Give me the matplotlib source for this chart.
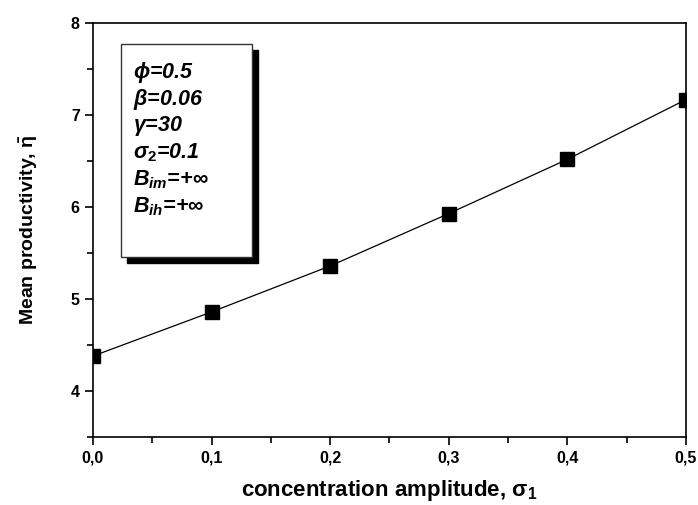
import matplotlib
matplotlib.use("Agg")
import matplotlib.pyplot as plt
from matplotlib.ticker import MultipleLocator, FuncFormatter
from matplotlib.patches import Rectangle

plt.rcParams['font.family'] = ['Liberation Sans', 'DejaVu Sans']
plt.rcParams['mathtext.fontset'] = 'custom'
plt.rcParams['mathtext.rm'] = 'Liberation Sans:bold'
plt.rcParams['mathtext.it'] = 'Liberation Sans:italic:bold'
plt.rcParams['mathtext.bf'] = 'Liberation Sans:bold'

# data
sigma1 = [0.0, 0.1, 0.2, 0.3, 0.4, 0.5]
eta_mean = [4.38, 4.86, 5.36, 5.93, 6.52, 7.17]

params = [r"$\phi$=0.5", r"$\beta$=0.06", r"$\gamma$=30", r"$\sigma_2$=0.1",
          r"B$_{im}$=+$\infty$", r"B$_{ih}$=+$\infty$"]

fig = plt.figure(figsize=(6.98, 5.05), dpi=100)
ax = fig.add_axes([0.1332, 0.1347, 0.8496, 0.8193])

ax.plot(sigma1, eta_mean, color='black', lw=0.9)
ax.plot(sigma1, eta_mean, ls='none', marker='s', ms=9.6, color='black', zorder=5)

ax.set_xlim(0, 0.5)
ax.set_ylim(3.5, 8)
ax.xaxis.set_major_locator(MultipleLocator(0.1))
ax.xaxis.set_minor_locator(MultipleLocator(0.05))
ax.yaxis.set_major_locator(MultipleLocator(1))
ax.yaxis.set_minor_locator(MultipleLocator(0.5))
ax.xaxis.set_major_formatter(FuncFormatter(lambda v, p: ("%.1f" % v).replace('.', ',')))
ax.yaxis.set_major_formatter(FuncFormatter(lambda v, p: "%d" % v))
ax.tick_params(which='major', direction='out', length=6, width=1.2, labelsize=11.5)
ax.tick_params(which='minor', direction='out', length=4, width=1.2)
for lab in ax.get_xticklabels() + ax.get_yticklabels():
    lab.set_fontweight('bold')
for s in ax.spines.values():
    s.set_linewidth(1.2)

ax.set_xlabel(r"concentration amplitude, $\mathrm{\sigma}_\mathrm{1}$", fontsize=16,
              fontweight='bold', labelpad=9)
ax.set_ylabel(r"Mean productivity, $\bar{\mathrm{\eta}}$", fontsize=14,
              fontweight='bold', labelpad=22)

# parameter box with shadow
bx, by, bw, bh = 0.048, 0.4355, 0.221, 0.514
ax.add_patch(Rectangle((bx + 0.010, by - 0.0145), bw, bh, transform=ax.transAxes,
                       facecolor='black', edgecolor='black', zorder=3))
ax.add_patch(Rectangle((bx, by), bw, bh, transform=ax.transAxes,
                       facecolor='white', edgecolor='#333333', lw=1.0, zorder=4))
for i, t in enumerate(params):
    ax.text(0.0675, 0.882 - i * 0.0652, t, transform=ax.transAxes, fontsize=15.5,
            fontweight='bold', style='italic', va='center', ha='left', zorder=6)

fig.savefig("out.png", dpi=100)
